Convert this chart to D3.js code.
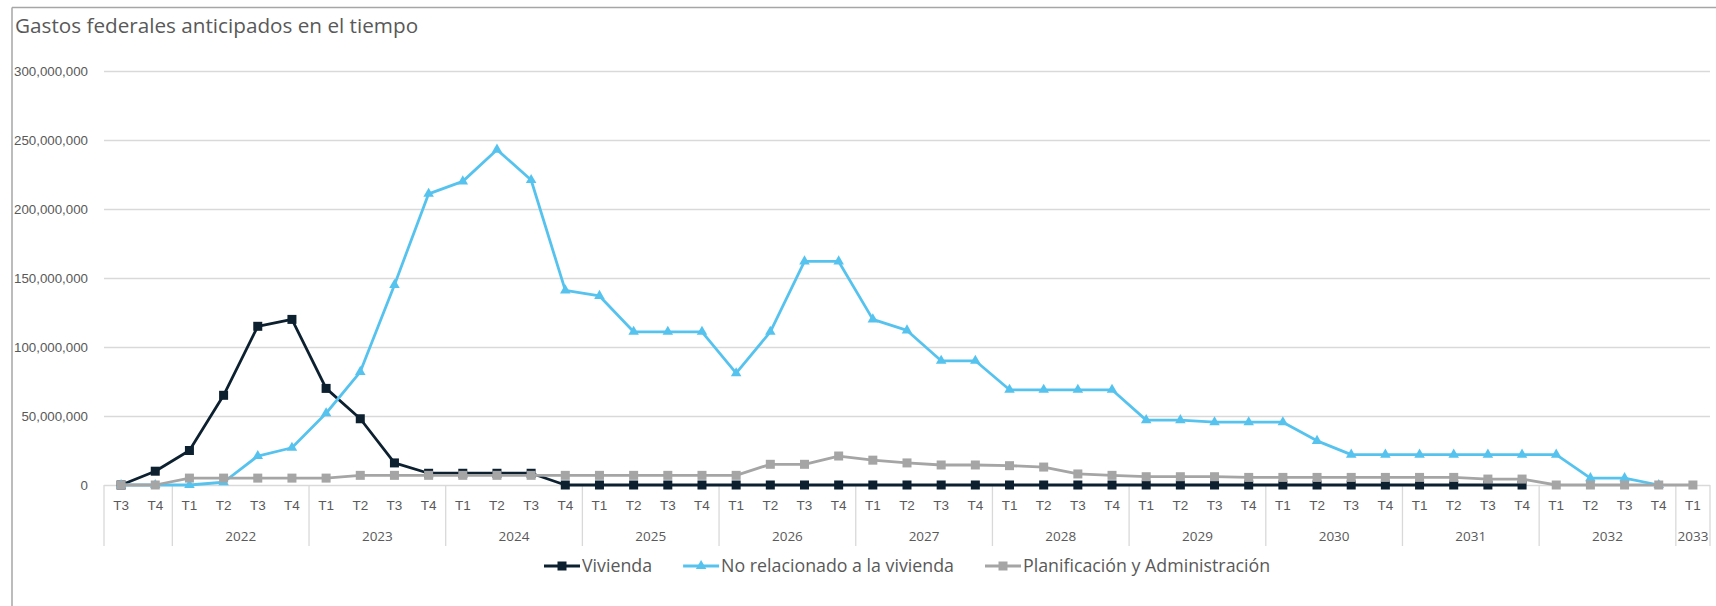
<!DOCTYPE html>
<html>
<head>
<meta charset="utf-8">
<script src="https://cdn.jsdelivr.net/npm/d3@7"></script>
<style>
  html, body { margin: 0; padding: 0; background: #ffffff; }
  svg { display: block; font-family: "Open Sans", "Noto Sans", sans-serif; }
</style>
</head>
<body>
<svg id="chart" width="1716" height="606"></svg>
<script>
// Quarter labels for each period (first two quarters belong to an unlabeled 2021 group)
const quarters = [
  "T3","T4",
  "T1","T2","T3","T4",
  "T1","T2","T3","T4",
  "T1","T2","T3","T4",
  "T1","T2","T3","T4",
  "T1","T2","T3","T4",
  "T1","T2","T3","T4",
  "T1","T2","T3","T4",
  "T1","T2","T3","T4",
  "T1","T2","T3","T4",
  "T1","T2","T3","T4",
  "T1","T2","T3","T4",
  "T1"
];
// Year groups on the second axis row and how many quarters each spans
const yearLabels = ["", "2022", "2023", "2024", "2025", "2026", "2027", "2028", "2029", "2030", "2031", "2032", "2033"];
const yearSpans  = [2, 4, 4, 4, 4, 4, 4, 4, 4, 4, 4, 4, 1];

const yTicks = [0, 50000000, 100000000, 150000000, 200000000, 250000000, 300000000];

const seriesNames = ["Vivienda", "No relacionado a la vivienda", "Planificación y Administración"];

const vivienda = [
  0, 10000000, 25000000, 65000000, 115000000, 120000000, 70000000, 48000000, 16000000,
  8500000, 8500000, 8500000, 8500000,
  0, 0, 0, 0, 0, 0, 0, 0, 0, 0, 0, 0, 0, 0, 0, 0, 0, 0, 0, 0, 0, 0, 0, 0, 0, 0, 0, 0, 0,
  null, null, null, null, null
];
const noRelacionado = [
  0, 0, 0, 2000000, 21000000, 27000000, 52000000, 82000000, 145000000, 211000000,
  220000000, 243000000, 221000000, 141000000, 137000000, 111000000, 111000000, 111000000,
  81000000, 111000000, 162000000, 162000000, 120000000, 112000000, 90000000, 90000000,
  69000000, 69000000, 69000000, 69000000, 47000000, 47000000, 45500000, 45500000, 45500000,
  32000000, 22000000, 22000000, 22000000, 22000000, 22000000, 22000000, 22000000,
  5000000, 5000000, 0, null
];
const planificacion = [
  0, 0, 5000000, 5000000, 5000000, 5000000, 5000000,
  7000000, 7000000, 7000000, 7000000, 7000000, 7000000, 7000000, 7000000, 7000000, 7000000, 7000000, 7000000,
  15000000, 15000000, 21000000, 18000000, 16000000, 14500000, 14500000, 14000000, 13000000, 8000000, 7000000,
  6000000, 6000000, 6000000,
  5500000, 5500000, 5500000, 5500000, 5500000, 5500000, 5500000,
  4300000, 4300000,
  0, 0, 0, 0, 0
];

const series = [
  { name: seriesNames[0], values: vivienda,      color: "#0c2030", marker: "square" },
  { name: seriesNames[1], values: noRelacionado, color: "#56c3ef", marker: "triangle" },
  { name: seriesNames[2], values: planificacion, color: "#a5a5a5", marker: "square" }
];

const svg = d3.select("#chart");
const textColor = "#595959";
const gridColor = "#d9d9d9";

const plotLeft = 104, plotRight = 1710, plotTop = 71, plotBottom = 485;

const x = d3.scaleBand().domain(d3.range(quarters.length)).range([plotLeft, plotRight]).padding(0);
const y = d3.scaleLinear().domain([0, 300000000]).range([plotBottom, plotTop]);
const cx = i => x(i) + x.bandwidth() / 2;

// Chart frame (top and left edges)
svg.append("line").attr("x1", 12).attr("x2", 1716).attr("y1", 7.5).attr("y2", 7.5)
  .attr("stroke", "#a6a6a6").attr("stroke-width", 1.5);
svg.append("line").attr("x1", 12).attr("x2", 12).attr("y1", 7.5).attr("y2", 606)
  .attr("stroke", "#a6a6a6").attr("stroke-width", 1.5);

// Title
svg.append("text")
  .attr("x", 15).attr("y", 33)
  .attr("fill", textColor)
  .style("font-size", "20.7px")
  .text("Gastos federales anticipados en el tiempo");

// Y axis with gridlines
const yAxis = d3.axisLeft(y)
  .tickValues(yTicks)
  .tickFormat(d3.format(","))
  .tickSize(-(plotRight - plotLeft))
  .tickPadding(16);
const gy = svg.append("g").attr("transform", `translate(${plotLeft},0)`).call(yAxis);
gy.select(".domain").remove();
gy.selectAll(".tick line").attr("stroke", gridColor).attr("stroke-width", 1.3);
gy.selectAll(".tick text").attr("fill", textColor).style("font-size", "13.3px");

// X axis: quarter labels
const xAxis = d3.axisBottom(x)
  .tickFormat(i => quarters[i])
  .tickSize(0)
  .tickPadding(15.5);
const gx = svg.append("g").attr("transform", `translate(0,${plotBottom})`).call(xAxis);
gx.select(".domain").remove();
gx.selectAll(".tick text").attr("fill", textColor).style("font-size", "13.5px");

// Year group separators and labels
let start = 0;
const groups = yearLabels.map((label, k) => {
  const g = { label, start, end: start + yearSpans[k] - 1 };
  start += yearSpans[k];
  return g;
});
const sepX = [x(0)].concat(groups.map(g => x(g.end) + x.bandwidth()));
svg.append("g").selectAll("line").data(sepX).join("line")
  .attr("x1", d => d).attr("x2", d => d)
  .attr("y1", plotBottom).attr("y2", 546)
  .attr("stroke", gridColor).attr("stroke-width", 1.3);
svg.append("g").selectAll("text").data(groups).join("text")
  .attr("x", g => (x(g.start) + x(g.end) + x.bandwidth()) / 2)
  .attr("y", 541)
  .attr("text-anchor", "middle")
  .attr("fill", textColor)
  .style("font-size", "13.5px")
  .text(g => g.label);

// Series lines and markers
const line = d3.line()
  .defined(d => d != null)
  .x((d, i) => cx(i))
  .y(d => y(d));

function drawMarker(sel, type, color) {
  if (type === "square") {
    sel.append("rect")
      .attr("x", -4.5).attr("y", -4.5).attr("width", 9).attr("height", 9)
      .attr("fill", color);
  } else {
    sel.append("path")
      .attr("d", d3.symbol(d3.symbolTriangle, 48)())
      .attr("fill", color);
  }
}

series.forEach(s => {
  const g = svg.append("g");
  g.append("path")
    .datum(s.values)
    .attr("d", line)
    .attr("fill", "none")
    .attr("stroke", s.color)
    .attr("stroke-width", 2.8)
    .attr("stroke-linejoin", "round");
  const pts = s.values.map((v, i) => ({ v, i })).filter(p => p.v != null);
  g.selectAll("g.pt").data(pts).join("g")
    .attr("class", "pt")
    .attr("transform", p => `translate(${cx(p.i)},${y(p.v)})`)
    .each(function () { drawMarker(d3.select(this), s.marker, s.color); });
});

// Legend
const legend = svg.append("g");
let lx = 544;
const ly = 566;
series.forEach(s => {
  const item = legend.append("g").attr("transform", `translate(${lx},${ly})`);
  item.append("line").attr("x1", 0).attr("x2", 36).attr("y1", 0).attr("y2", 0)
    .attr("stroke", s.color).attr("stroke-width", 2.8);
  const m = item.append("g").attr("transform", "translate(18,0)");
  drawMarker(m, s.marker, s.color);
  const t = item.append("text")
    .attr("x", 38).attr("y", 6)
    .attr("fill", textColor)
    .style("font-size", "17.8px")
    .text(s.name);
  lx += 38 + t.node().getComputedTextLength() + 31;
});
</script>
</body>
</html>
